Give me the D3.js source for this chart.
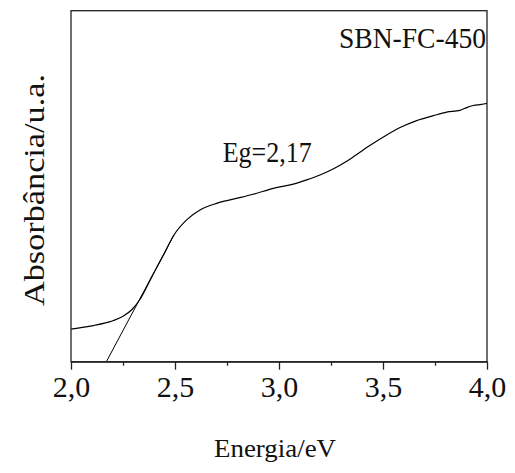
<!DOCTYPE html>
<html>
<head>
<meta charset="utf-8">
<script src="https://cdn.jsdelivr.net/npm/d3@7"></script>
<style>
  html, body { margin: 0; padding: 0; background: #fff; }
  svg { display: block; }
  svg text { font-family: "Liberation Serif", "DejaVu Serif", serif !important; fill: #111; }
</style>
</head>
<body>
<div id="chart"></div>
<script>
// Photon energy (eV) and absorbance (arbitrary units) of the SBN-FC-450 sample
const energy = [2.000, 2.107, 2.188, 2.252, 2.292, 2.332, 2.364, 2.388, 2.442, 2.495,
                2.556, 2.620, 2.700, 2.780, 2.876, 2.973, 3.069, 3.133, 3.197, 3.269,
                3.341, 3.429, 3.518, 3.582, 3.662, 3.742, 3.806, 3.870, 3.902, 3.934,
                3.974, 4.000];
const absorbance = [0.093, 0.103, 0.114, 0.130, 0.148, 0.178, 0.213, 0.241, 0.301, 0.361,
                    0.404, 0.432, 0.451, 0.463, 0.477, 0.494, 0.506, 0.518, 0.532, 0.552,
                    0.577, 0.613, 0.646, 0.667, 0.687, 0.701, 0.711, 0.716, 0.724, 0.730,
                    0.733, 0.736];

// Linear extrapolation of the absorption edge down to the baseline
const tangentEnergy = [2.17, 2.495];
const tangentAbsorbance = [0.0, 0.361];
const bandGap = "2,17";

const xTicks = [2.0, 2.5, 3.0, 3.5, 4.0];
const xMinorTicks = [2.25, 2.75, 3.25, 3.75];
const xTickLabels = ["2,0", "2,5", "3,0", "3,5", "4,0"];

const sampleName = "SBN-FC-450";
const xTitle = "Energia/eV";
const yTitle = "Absorbância/u.a.";

const serif = "'Liberation Serif', 'DejaVu Serif', serif";
const width = 515, height = 473;
const margin = { left: 71, right: 28, top: 10.7, bottom: 111.3 };

const svg = d3.select("#chart").append("svg")
  .attr("width", width).attr("height", height);

const x = d3.scaleLinear().domain([2.0, 4.0])
  .range([margin.left, width - margin.right]);
const y = d3.scaleLinear().domain([0, 1])
  .range([height - margin.bottom, margin.top]);

const x0 = x.range()[0], x1 = x.range()[1];
const y0 = y.range()[0], y1 = y.range()[1];

// Clip to the plotting area
svg.append("clipPath").attr("id", "plot-clip")
  .append("rect").attr("x", x0).attr("y", y1)
  .attr("width", x1 - x0).attr("height", y0 - y1);

const plot = svg.append("g").attr("clip-path", "url(#plot-clip)");

// Absorbance spectrum
const line = d3.line()
  .x((d, i) => x(energy[i]))
  .y((d, i) => y(absorbance[i]))
  .curve(d3.curveMonotoneX);

plot.append("path")
  .datum(energy)
  .attr("d", line)
  .attr("fill", "none")
  .attr("stroke", "#000")
  .attr("stroke-width", 1.2);

// Tangent to the absorption edge
plot.append("path")
  .datum(tangentEnergy)
  .attr("d", d3.line()
    .x((d, i) => x(tangentEnergy[i]))
    .y((d, i) => y(tangentAbsorbance[i])))
  .attr("fill", "none")
  .attr("stroke", "#000")
  .attr("stroke-width", 1);

// Frame
const frameColor = "#222";
svg.append("rect")
  .attr("x", x0).attr("y", y1)
  .attr("width", x1 - x0).attr("height", y0 - y1)
  .attr("fill", "none")
  .attr("stroke", frameColor)
  .attr("stroke-width", 1.3);

// Bottom axis: major ticks with labels, minor ticks in between
const xAxis = d3.axisBottom(x)
  .tickValues(xTicks)
  .tickSize(8)
  .tickSizeOuter(0)
  .tickPadding(6)
  .tickFormat((d, i) => xTickLabels[i]);

const gx = svg.append("g")
  .attr("transform", `translate(0,${y0})`)
  .call(xAxis)
  .attr("font-family", serif);
gx.select(".domain").attr("stroke", frameColor).attr("stroke-width", 1.3);
gx.selectAll(".tick line").attr("stroke", frameColor).attr("stroke-width", 1.3);
gx.selectAll(".tick text")
  .style("font-family", serif)
  .attr("font-size", 30)
  .attr("fill", "#111");

const gxMinor = svg.append("g")
  .attr("transform", `translate(0,${y0})`)
  .call(d3.axisBottom(x).tickValues(xMinorTicks).tickSize(4).tickFormat(""));
gxMinor.select(".domain").remove();
gxMinor.selectAll(".tick line").attr("stroke", frameColor).attr("stroke-width", 1.3);

// Annotations
svg.append("text")
  .attr("x", 486).attr("y", 48.3)
  .attr("text-anchor", "end")
  .style("font-family", serif)
  .attr("font-size", 30)
  .attr("textLength", 147)
  .attr("lengthAdjust", "spacingAndGlyphs")
  .text(sampleName);

svg.append("text")
  .attr("x", 222.7).attr("y", 161.7)
  .style("font-family", serif)
  .attr("font-size", 29)
  .attr("textLength", 89)
  .attr("lengthAdjust", "spacingAndGlyphs")
  .text("Eg=" + bandGap);

// Axis titles
svg.append("text")
  .attr("x", 275).attr("y", 457)
  .attr("text-anchor", "middle")
  .style("font-family", serif)
  .attr("font-size", 26)
  .attr("textLength", 122)
  .attr("lengthAdjust", "spacingAndGlyphs")
  .text(xTitle);

svg.append("text")
  .attr("transform", "translate(44,190) rotate(-90)")
  .attr("text-anchor", "middle")
  .style("font-family", serif)
  .attr("font-size", 29)
  .attr("textLength", 232)
  .attr("lengthAdjust", "spacingAndGlyphs")
  .text(yTitle);
</script>
</body>
</html>
